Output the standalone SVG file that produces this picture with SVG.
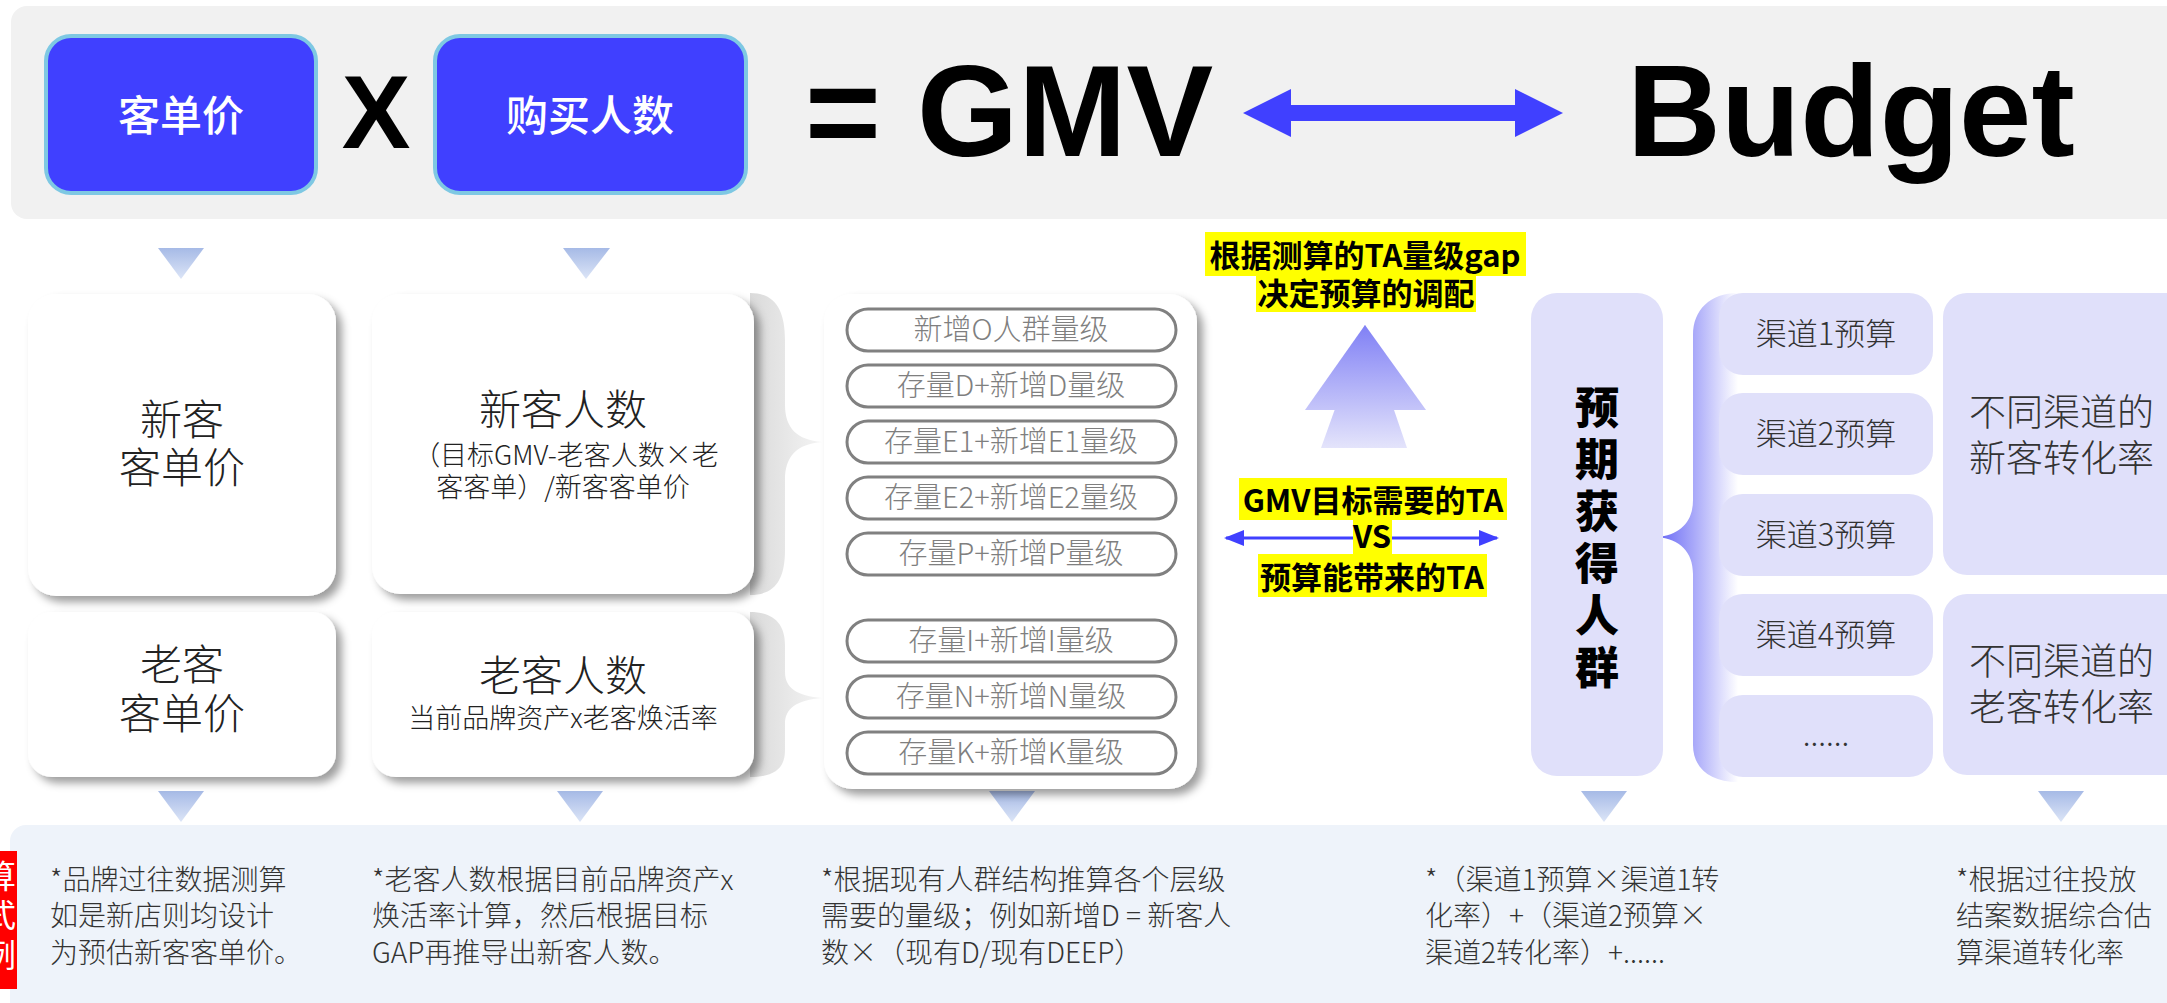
<svg xmlns="http://www.w3.org/2000/svg" width="2167" height="1003" viewBox="0 0 2167 1003">
<defs>
<style>
.cjk{font-family:"Noto Sans CJK SC","Noto Sans",sans-serif}
.lat{font-family:"Liberation Sans",Arial,sans-serif;font-weight:700;fill:#000}
.blue{fill:#4040FF;stroke:#7EC8E3;stroke-width:4}
.bluet{fill:#fff;font-size:42px;font-weight:500;text-anchor:middle}
.card{fill:#fff;filter:url(#sh)}
.big{fill:#222;font-size:42px;font-weight:300;text-anchor:middle}
.sub{fill:#222;font-size:27px;font-weight:300;text-anchor:middle}
.pill{fill:#fff;stroke:#808080;stroke-width:3}
.pillt{fill:#7f7f7f;font-size:29px;font-weight:300;text-anchor:middle}
.lav{fill:#E0E0FA}
.cht{fill:#333;font-size:31px;font-weight:300;text-anchor:middle}
.cvt{fill:#333;font-size:37px;font-weight:300}
.yl{fill:#FFFF00}
.ylt{fill:#000;font-size:31px;font-weight:700;text-anchor:middle}
.bt{fill:#333;font-size:28px;font-weight:300}
.tri{fill:url(#tg)}
.vt{fill:#000;font-size:44px;font-weight:900;text-anchor:middle}
</style>
<filter id="sh" x="-10%" y="-10%" width="125%" height="125%">
<feDropShadow dx="6" dy="6" stdDeviation="4" flood-color="#000" flood-opacity="0.38"/>
</filter>
<linearGradient id="tg" x1="0" y1="0" x2="0" y2="1">
<stop offset="0" stop-color="#A6BAE6"/>
<stop offset="1" stop-color="#DCE5F7"/>
</linearGradient>
<linearGradient id="upg" gradientUnits="userSpaceOnUse" x1="0" y1="325" x2="0" y2="448">
<stop offset="0" stop-color="#8080F5"/>
<stop offset="1" stop-color="#E4E4FB"/>
</linearGradient>
<linearGradient id="gb" x1="0" y1="0" x2="1" y2="0">
<stop offset="0" stop-color="#DADADA"/>
<stop offset="1" stop-color="#F4F4F4"/>
</linearGradient>
<linearGradient id="lb" gradientUnits="userSpaceOnUse" x1="1657" y1="0" x2="1738" y2="0">
<stop offset="0" stop-color="#6666F5"/>
<stop offset="0.45" stop-color="#A8A8F9"/>
<stop offset="1" stop-color="#FFFFFF"/>
</linearGradient>
<marker id="ah" viewBox="0 0 20 16" refX="18" refY="8" markerWidth="20" markerHeight="16" markerUnits="userSpaceOnUse" orient="auto-start-reverse">
<path d="M0 0 L20 8 L0 16 Z" fill="#4040FF"/>
</marker>
</defs>

<rect x="11" y="6" width="2200" height="213" rx="16" fill="#F1F1F1"/>

<g id="unit-price">
<rect class="blue" x="46" y="36" width="270" height="157" rx="25"/>
<text class="cjk bluet" x="181" y="131">客单价</text>
</g>
<text class="lat" x="376" y="148" font-size="103" text-anchor="middle">X</text>
<g id="buyers">
<rect class="blue" x="435" y="36" width="311" height="157" rx="25"/>
<text class="cjk bluet" x="590" y="131">购买人数</text>
</g>
<g id="gmv"><text class="lat" x="805" y="156" font-size="130">= GMV</text></g>
<g id="budget"><text class="lat" x="1627" y="156" font-size="130">Budget</text></g>

<g id="connectors">
<polygon points="1243,113 1291,89 1291,105 1515,105 1515,89 1563,113 1515,137 1515,121 1291,121 1291,137" fill="#4040FF"/>
<polygon class="tri" points="158,248 204,248 181,279"/>
<polygon class="tri" points="563,248 610,248 586,279"/>
<polygon class="tri" points="158,791 204,791 181,822"/>
<polygon class="tri" points="557,791 603,791 580,822"/>
<polygon class="tri" points="989,791 1035,791 1012,822"/>
<polygon class="tri" points="1581,791 1627,791 1604,822"/>
<polygon class="tri" points="2038,791 2084,791 2061,822"/>
<path d="M750 293 C775 293 785 310 785 340 L785 405 C785 428 797 440 822 442 C797 444 785 456 785 480 L785 550 C785 580 775 595 750 595 Z" fill="url(#gb)"/>
<path d="M750 612 C775 612 785 625 785 645 L785 672 C785 688 797 696 822 698 C797 700 785 708 785 724 L785 750 C785 768 775 777 750 777 Z" fill="url(#gb)"/>
<path d="M1738 293 C1710 293 1693 310 1693 335 L1693 500 C1693 522 1680 535 1657 537 C1680 539 1693 552 1693 574 L1693 745 C1693 768 1710 782 1738 782 Z" fill="url(#lb)"/>
<polygon points="1365,325 1407,448 1321,448" fill="url(#upg)"/>
<polygon points="1365,325 1426,410 1305,410" fill="url(#upg)"/>
<line x1="1226" y1="538" x2="1497" y2="538" stroke="#4040FF" stroke-width="3" marker-start="url(#ah)" marker-end="url(#ah)"/>
</g>

<g id="new-price">
<rect class="card" x="28" y="294" width="308" height="302" rx="28"/>
<text class="cjk big" x="182" y="435">新客</text>
<text class="cjk big" x="182" y="483">客单价</text>
</g>
<g id="new-count">
<rect class="card" x="372" y="294" width="382" height="300" rx="28"/>
<text class="cjk big" x="563" y="425">新客人数</text>
<text class="cjk sub" x="566" y="465">（目标GMV-老客人数×老</text>
<text class="cjk sub" x="563" y="497">客客单）/新客客单价</text>
</g>
<g id="old-price">
<rect class="card" x="28" y="612" width="308" height="165" rx="24"/>
<text class="cjk big" x="182" y="680">老客</text>
<text class="cjk big" x="182" y="729">客单价</text>
</g>
<g id="old-count">
<rect class="card" x="372" y="612" width="382" height="165" rx="24"/>
<text class="cjk big" x="563" y="691">老客人数</text>
<text class="cjk sub" x="563" y="728">当前品牌资产x老客焕活率</text>
</g>

<g id="levels">
<rect class="card" x="824" y="294" width="373" height="495" rx="28"/>
<rect class="pill" x="847" y="309" width="329" height="42" rx="21"/>
<text class="cjk pillt" x="1011" y="340">新增O人群量级</text>
<rect class="pill" x="847" y="365" width="329" height="42" rx="21"/>
<text class="cjk pillt" x="1011" y="396">存量D+新增D量级</text>
<rect class="pill" x="847" y="421" width="329" height="42" rx="21"/>
<text class="cjk pillt" x="1011" y="452">存量E1+新增E1量级</text>
<rect class="pill" x="847" y="477" width="329" height="42" rx="21"/>
<text class="cjk pillt" x="1011" y="508">存量E2+新增E2量级</text>
<rect class="pill" x="847" y="533" width="329" height="42" rx="21"/>
<text class="cjk pillt" x="1011" y="564">存量P+新增P量级</text>
<rect class="pill" x="847" y="620" width="329" height="42" rx="21"/>
<text class="cjk pillt" x="1011" y="651">存量I+新增I量级</text>
<rect class="pill" x="847" y="676" width="329" height="42" rx="21"/>
<text class="cjk pillt" x="1011" y="707">存量N+新增N量级</text>
<rect class="pill" x="847" y="732" width="329" height="42" rx="21"/>
<text class="cjk pillt" x="1011" y="763">存量K+新增K量级</text>
</g>

<g id="gap-note">
<rect class="yl" x="1205" y="232" width="321" height="44"/>
<rect class="yl" x="1256" y="276" width="220" height="36"/>
<text class="cjk ylt" x="1365" y="267">根据测算的TA量级gap</text>
<text class="cjk ylt" x="1366" y="305">决定预算的调配</text>
</g>

<g id="vs-note">
<rect class="yl" x="1239" y="478" width="268" height="42"/>
<rect class="yl" x="1353" y="520" width="39" height="34"/>
<rect class="yl" x="1258" y="554" width="229" height="43"/>
<text class="cjk ylt" x="1373" y="512">GMV目标需要的TA</text>
<text class="cjk ylt" x="1372" y="548">VS</text>
<text class="cjk ylt" x="1372" y="589">预算能带来的TA</text>
</g>

<g id="expected">
<rect class="lav" x="1531" y="293" width="132" height="483" rx="26"/>
<text class="cjk vt" x="1597" y="424">预</text>
<text class="cjk vt" x="1597" y="476">期</text>
<text class="cjk vt" x="1597" y="528">获</text>
<text class="cjk vt" x="1597" y="580">得</text>
<text class="cjk vt" x="1597" y="632">人</text>
<text class="cjk vt" x="1597" y="684">群</text>
</g>

<g id="channels">
<rect class="lav" x="1719" y="293" width="214" height="82" rx="24"/>
<text class="cjk cht" x="1826" y="345">渠道1预算</text>
<rect class="lav" x="1719" y="393" width="214" height="82" rx="24"/>
<text class="cjk cht" x="1826" y="445">渠道2预算</text>
<rect class="lav" x="1719" y="494" width="214" height="82" rx="24"/>
<text class="cjk cht" x="1826" y="546">渠道3预算</text>
<rect class="lav" x="1719" y="594" width="214" height="82" rx="24"/>
<text class="cjk cht" x="1826" y="646">渠道4预算</text>
<rect class="lav" x="1719" y="695" width="214" height="82" rx="24"/>
<text class="cjk cht" x="1826" y="746">......</text>
</g>

<g id="new-conv">
<rect class="lav" x="1943" y="293" width="260" height="282" rx="24"/>
<text class="cjk cvt" x="1969" y="426">不同渠道的</text>
<text class="cjk cvt" x="1969" y="472">新客转化率</text>
</g>
<g id="old-conv">
<rect class="lav" x="1943" y="594" width="260" height="181" rx="24"/>
<text class="cjk cvt" x="1969" y="675">不同渠道的</text>
<text class="cjk cvt" x="1969" y="721">老客转化率</text>
</g>

<g id="notes">
<rect x="10" y="825" width="2200" height="200" rx="16" fill="#EEF3FA"/>
<rect x="0" y="851" width="17" height="138" fill="#FF0000"/>
<text class="cjk" x="0" y="888" font-size="32" fill="#fff" text-anchor="middle">算</text>
<text class="cjk" x="0" y="927" font-size="32" fill="#fff" text-anchor="middle">式</text>
<text class="cjk" x="0" y="967" font-size="32" fill="#fff" text-anchor="middle">例</text>
<text class="cjk bt" x="50" y="890">*品牌过往数据测算</text>
<text class="cjk bt" x="50" y="926">如是新店则均设计</text>
<text class="cjk bt" x="50" y="963">为预估新客客单价。</text>
<text class="cjk bt" x="372" y="890">*老客人数根据目前品牌资产x</text>
<text class="cjk bt" x="372" y="926">焕活率计算，然后根据目标</text>
<text class="cjk bt" x="372" y="963">GAP再推导出新客人数。</text>
<text class="cjk bt" x="821" y="890">*根据现有人群结构推算各个层级</text>
<text class="cjk bt" x="821" y="926">需要的量级；例如新增D = 新客人</text>
<text class="cjk bt" x="821" y="963">数×（现有D/现有DEEP）</text>
<text class="cjk bt" x="1425" y="890">*（渠道1预算×渠道1转</text>
<text class="cjk bt" x="1425" y="926">化率）+（渠道2预算×</text>
<text class="cjk bt" x="1425" y="963">渠道2转化率）+......</text>
<text class="cjk bt" x="1956" y="890">*根据过往投放</text>
<text class="cjk bt" x="1956" y="926">结案数据综合估</text>
<text class="cjk bt" x="1956" y="963">算渠道转化率</text>
</g>
</svg>
